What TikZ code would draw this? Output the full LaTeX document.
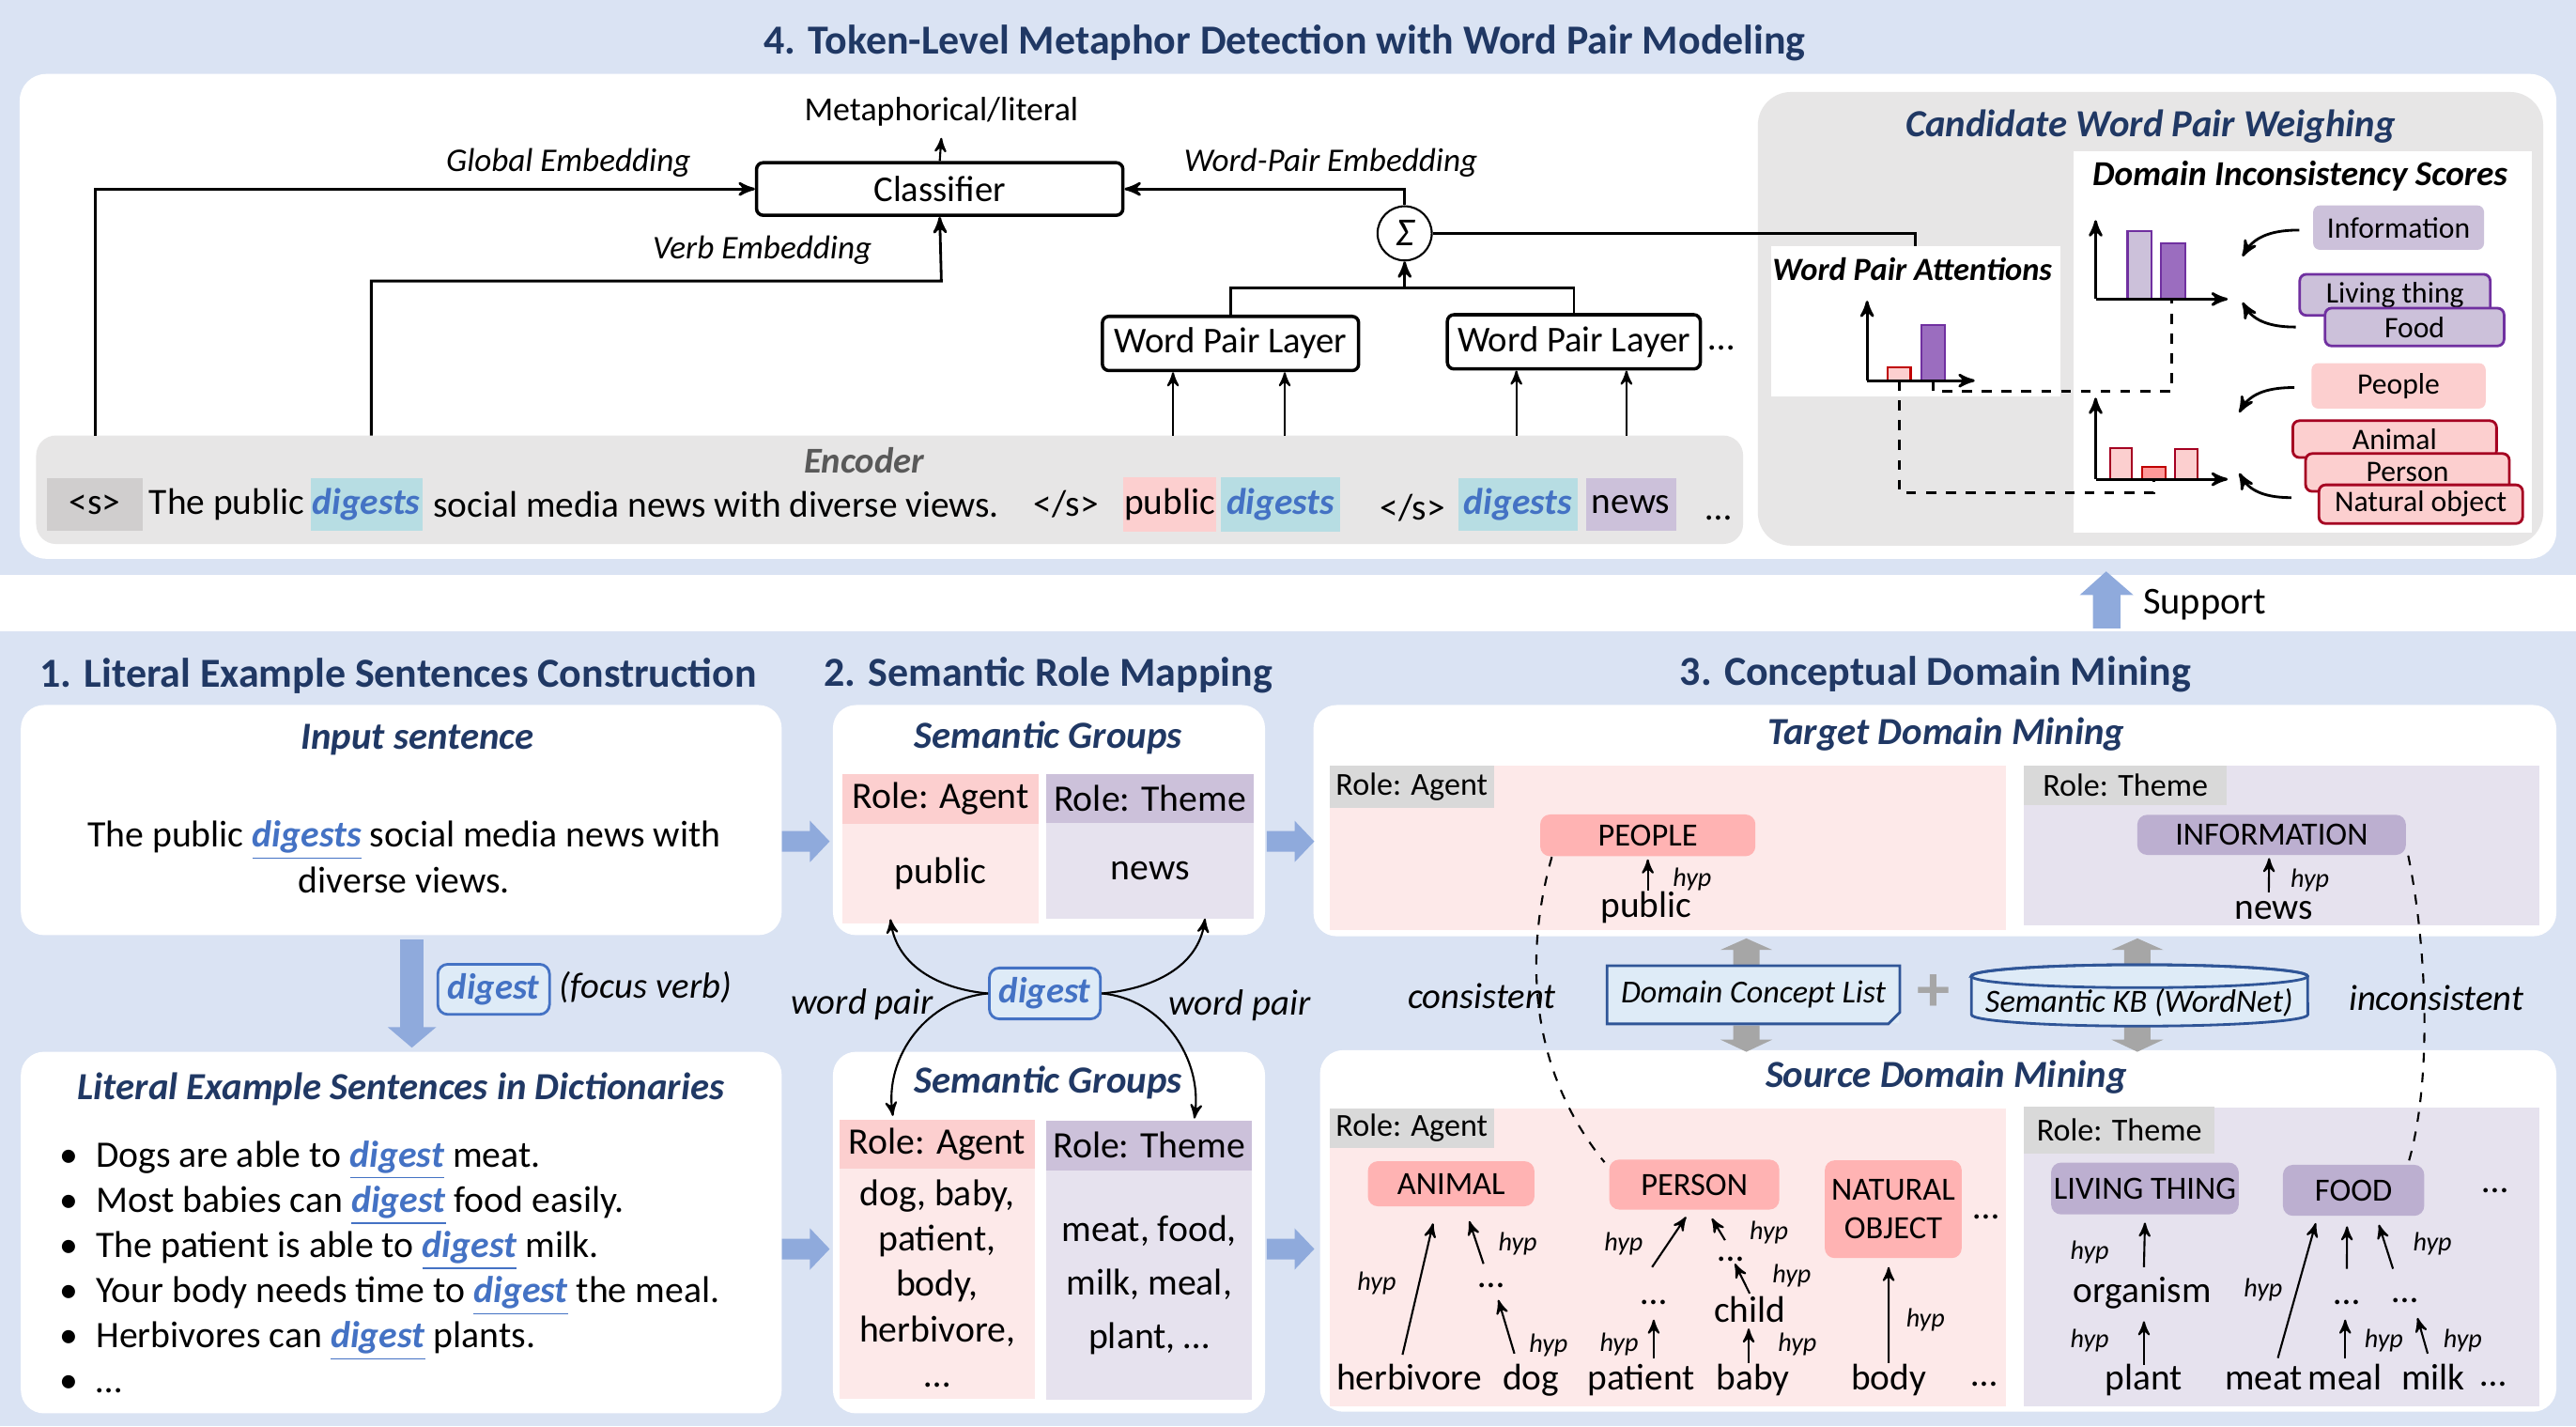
\documentclass[tikz,border=0pt]{standalone}
\usepackage{fontspec}
\setmainfont{Carlito}
\usepackage{tikz}
\usetikzlibrary{arrows,calc,positioning}
\definecolor{bgblue}{HTML}{DAE3F3}
\definecolor{navy}{HTML}{203864}
\definecolor{encgray}{HTML}{E7E6E6}
\definecolor{tokgray}{HTML}{D0CECE}
\definecolor{rolegray}{HTML}{D9D9D9}
\definecolor{pinkhead}{HTML}{FCCFCF}
\definecolor{pinkbody}{HTML}{FDE9E9}
\definecolor{pinkcon}{HTML}{FFB3B3}
\definecolor{purphead}{HTML}{CCC1DA}
\definecolor{purpbody}{HTML}{E6E2EE}
\definecolor{purpcon}{HTML}{BCAFD0}
\definecolor{tealhl}{HTML}{B7DDE3}
\definecolor{digblue}{HTML}{4472C4}
\definecolor{barrow}{HTML}{8FAADC}
\definecolor{garrow}{HTML}{A6A6A6}
\definecolor{dclfill}{HTML}{DEEBF7}
\definecolor{dclline}{HTML}{2F5597}
\definecolor{purpline}{HTML}{7030A0}
\definecolor{purpbar}{HTML}{9B6DBF}
\definecolor{redline}{HTML}{A50021}
\definecolor{barred}{HTML}{C00000}
\definecolor{barsalmon}{HTML}{FF9999}
\definecolor{encfont}{HTML}{595959}

\newcommand{\px}{0.017494cm}
\newcommand{\dig}[1]{\textcolor{digblue}{\underline{\textbf{\textit{#1}}}}}
\newcommand{\digb}[1]{\textcolor{digblue}{\textbf{\textit{#1}}}}
% block arrows (x, y)
\newcommand{\rblock}[2]{\fill[barrow] (#1,#2-6.3) -- (#1+17,#2-6.3) -- (#1+17,#2-12.6) -- (#1+29,#2) -- (#1+17,#2+12.6) -- (#1+17,#2+6.3) -- (#1,#2+6.3) -- cycle;}
\newcommand{\gup}[3]{\fill[garrow] (#1,#2) -- (#1+15.8,#2+7) -- (#1+8,#2+7) -- (#1+8,#3) -- (#1-8,#3) -- (#1-8,#2+7) -- (#1-15.8,#2+7) -- cycle;}
\newcommand{\gdown}[3]{\fill[garrow] (#1-8,#2) -- (#1+8,#2) -- (#1+8,#3-7.4) -- (#1+15.8,#3-7.4) -- (#1,#3) -- (#1-15.8,#3-7.4) -- (#1-8,#3-7.4) -- cycle;}

\begin{document}
\begin{tikzpicture}[x=\px,y=-\px,>=stealth',
  sz/.style 2 args={minimum width=#1*\px,minimum height=#2*\px,inner sep=0pt},
  ttl/.style={font=\bfseries\fontsize{12.5}{14}\selectfont,text=navy},
  sub/.style={font=\bfseries\itshape\fontsize{11.6}{13}\selectfont,text=navy},
  chtl/.style={font=\bfseries\itshape\fontsize{9.8}{11}\selectfont},
  lbl/.style={font=\itshape\fontsize{10}{12}\selectfont},
  txt/.style={font=\fontsize{11.3}{13.7}\selectfont},
  sm/.style={font=\fontsize{9.7}{11}\selectfont},
  hyp/.style={font=\itshape\fontsize{8}{9}\selectfont,inner sep=0pt},
  word/.style={font=\fontsize{11.2}{13}\selectfont,inner sep=0.5pt,text height=8pt,text depth=2.5pt},
  layer/.style={draw,line width=1pt,rounded corners=2pt,fill=white,font=\fontsize{11}{13}\selectfont},
  tok/.style={font=\fontsize{11.2}{13}\selectfont},
  digbox/.style={draw=digblue,thick,fill=dclfill,rounded corners=3pt,font=\fontsize{11}{13}\selectfont},
  con/.style={rounded corners=3pt,font=\fontsize{9.8}{11}\selectfont},
  side/.style={rounded corners=2pt,font=\fontsize{9}{10}\selectfont},
  hy/.style={->,line width=0.6pt}]

\useasboundingbox (0,0) rectangle (1568,868);
\fill[bgblue] (0,0) rectangle (1568,350);
\fill[bgblue] (0,384) rectangle (1568,868);
\fill[white,rounded corners=8pt] (12,45) rectangle (1556,340);

%% 4. token-level detection
\node[ttl] (t4) at (782,26) {4. Token-Level Metaphor Detection with Word Pair Modeling};
\node[layer,sz={223}{32}] (cls) at (572,115) {Classifier};
\node[font=\fontsize{10.2}{12}\selectfont] (meta) at (573,68) {Metaphorical/literal};
\draw[->,semithick] (cls.north) -- (meta.south);
\node[lbl] (gemb) at (346,99) {Global Embedding};
\node[lbl] (vemb) at (464,152) {Verb Embedding};
\node[lbl] (wemb) at (810,99) {Word-Pair Embedding};
\node[circle,draw,semithick,minimum size=33*\px,inner sep=0pt,fill=white,font=\itshape\fontsize{12}{13}\selectfont] (sig) at (855,142) {Σ};

\fill[encgray,rounded corners=6pt] (22,265) rectangle (1061,331);
\node[font=\bfseries\itshape\fontsize{11}{13}\selectfont,text=encfont] (enc) at (526,280) {Encoder};
\coordinate (g0) at (58,265);
\coordinate (v0) at (226,265);
\coordinate (vb) at (573,171);
\draw[->,thick] (g0) |- (cls.west);
\draw[->,thick] (v0) |- (vb) -- (cls.south);
\draw[->,thick] (sig.north) |- (cls.east);

\node[layer,sz={156}{33}] (wpl1) at (749,209) {Word Pair Layer};
\node[layer,sz={154}{33}] (wpl2) at (958,208) {Word Pair Layer};
\node[txt] (wdots) at (1048,212) {\dots};
\coordinate (jn) at (855,175);
\draw[thick] (wpl1.north) |- (jn) -| (wpl2.north);
\draw[->,thick] (jn) -- (sig.south);
\foreach \x/\w in {714/wpl1,782/wpl1,923/wpl2,990/wpl2}{
  \coordinate (e\x) at (\x,265);
  \draw[->,semithick] (e\x) -- (e\x |- \w.south);
}

\node[tok,fill=tokgray,sz={58}{32}] (s0) at (57.7,307) {<s>};
\node[tok] (w1) at (138,307) {The public};
\node[tok,fill=tealhl,sz={68}{32}] (w2) at (223,307) {\digb{digests}};
\node[tok] (w3) at (436,307) {social media news with diverse views.};
\node[tok] (w4) at (649,307) {</s>};
\node[tok,fill=pinkhead,sz={57}{33}] (w5) at (712,307) {public};
\node[tok,fill=tealhl,sz={73}{33}] (w6) at (779.5,307) {\digb{digests}};
\node[tok] (w7) at (860,309) {</s>};
\node[tok,fill=tealhl,sz={73}{32}] (w8) at (924,307) {\digb{digests}};
\node[tok,fill=purphead,sz={55}{32}] (w9) at (992.7,307) {news};
\node[tok] (w10) at (1046,315) {\dots};

%% candidate word pair weighing
\fill[encgray,rounded corners=10pt] (1070,56) rectangle (1548,332);
\node[sub] (cand) at (1309,77) {Candidate Word Pair Weighing};
\fill[white] (1262,92) rectangle (1541,324);
\node[chtl,font=\bfseries\itshape\fontsize{10.6}{12}\selectfont] (dis) at (1400,107) {Domain Inconsistency Scores};
\node[fill=white,sz={176}{91}] (wpa) at (1166,195.5) {};
\node[chtl] (wpat) at (1164,164) {Word Pair Attentions};
\draw[thick] (sig.east) -| (wpa.north);

\filldraw[fill=pinkhead,draw=barred,semithick] (1149,223.5) rectangle (1163,231.6);
\filldraw[fill=purpbar,draw=purpline,semithick] (1169.5,197.6) rectangle (1183.6,231.6);
\draw[->,thick] (1136.5,231.6) -- (1136.5,183);
\draw[->,thick] (1136.5,231.6) -- (1202,231.6);

\filldraw[fill=purphead,draw=purpline,semithick] (1295,140.4) rectangle (1309.5,182);
\filldraw[fill=purpbar,draw=purpline,semithick] (1315.5,148) rectangle (1330,182);
\draw[->,thick] (1275.6,182) -- (1275.6,134);
\draw[->,thick] (1275.6,182) -- (1356,182);

\filldraw[fill=pinkhead,draw=redline,semithick] (1284.6,272.5) rectangle (1297.6,291.6);
\filldraw[fill=barsalmon,draw=barred,semithick] (1304,284) rectangle (1318,291.6);
\filldraw[fill=pinkhead,draw=redline,semithick] (1324,273) rectangle (1337.6,291.6);
\draw[->,thick] (1275.6,291.6) -- (1275.6,242);
\draw[->,thick] (1275.6,291.6) -- (1356,291.6);

\draw[dashed,thick] (1176.5,231.6) |- (1322,238) -- (1322,182);
\draw[dashed,thick] (1156,231.6) |- (1311,299.6) -- (1311,291.6);

\node[side,fill=purphead,sz={104}{27}] (info) at (1460,138.5) {Information};
\node[side,fill=purphead,draw=purpline,thick,sz={116}{25}] (liv) at (1457.8,179.4) {Living thing};
\node[side,fill=purphead,draw=purpline,thick,sz={109}{23}] (food) at (1469.7,199) {Food};
\node[side,fill=pinkhead,sz={106}{27.6}] (peo) at (1460,234.8) {People};
\node[side,fill=pinkhead,draw=redline,thick,sz={124}{22.4}] (ani) at (1457.6,267.2) {Animal};
\node[side,fill=pinkhead,draw=redline,thick,sz={124}{23}] (pers) at (1465.4,287.5) {Person};
\node[side,fill=pinkhead,draw=redline,thick,sz={124}{23.5}] (nat) at (1473.5,306.8) {Natural object};

\coordinate (c1) at (1365,156);
\coordinate (c2) at (1365,184);
\coordinate (c3) at (1363,251);
\coordinate (c4) at (1363,288);
\draw[->,thick] ($(info.west)+(-8,1.5)$) to[out=180,in=60] (c1);
\draw[->,thick] ($(food.west)+(-17,0)$) to[out=180,in=-60] (c2);
\draw[->,thick] ($(peo.west)+(-10,1)$) to[out=180,in=60] (c3);
\draw[->,thick] ($(nat.west)+(-16,-4)$) to[out=180,in=-60] (c4);

%% support
\fill[barrow] (1282,347.7) -- (1298.5,362) -- (1290.7,362) -- (1290.7,382.4) -- (1274,382.4) -- (1274,362) -- (1266,362) -- cycle;
\node[font=\fontsize{11.5}{13}\selectfont] (sup) at (1342,367.7) {Support};

%% section titles
\node[ttl] (t1) at (242.5,411.5) {1. Literal Example Sentences Construction};
\node[ttl] (t2) at (638,411) {2. Semantic Role Mapping};
\node[ttl] (t3) at (1178,410.5) {3. Conceptual Domain Mining};

\fill[white,rounded corners=7pt] (12.7,429) rectangle (475.8,569);
\fill[white,rounded corners=7pt] (12.7,640) rectangle (475.8,860);
\fill[white,rounded corners=7pt] (507,429) rectangle (770,569);
\fill[white,rounded corners=7pt] (507,640) rectangle (770,860);
\fill[white,rounded corners=7pt] (799.5,429) rectangle (1556,569.7);
\fill[white,rounded corners=7pt] (803.5,639) rectangle (1556,859);

%% 1. literal example sentences
\node[sub] (ins) at (254,450) {Input sentence};
\node[txt,align=center] (sent) at (246,521.5) {The public \dig{digests} social media news with\\diverse views.};
\fill[barrow] (243.5,571.7) rectangle (258,625.5);
\fill[barrow] (236,625) -- (265.5,625) -- (250.7,637.5) -- cycle;
\node[digbox,sz={68}{30.5}] (fv) at (300.5,602) {\digb{digest}};
\node[font=\itshape\fontsize{11}{13}\selectfont] (fvt) at (393,601) {(focus verb)};
\node[sub] (lex) at (244,662.5) {Literal Example Sentences in Dictionaries};
\node[txt,align=left,anchor=west] (ex) at (29,771) {%
\textbullet\hspace{5.5pt}Dogs are able to \dig{digest} meat.\\
\textbullet\hspace{5.5pt}Most babies can \dig{digest} food easily.\\
\textbullet\hspace{5.5pt}The patient is able to \dig{digest} milk.\\
\textbullet\hspace{5.5pt}Your body needs time to \dig{digest} the meal.\\
\textbullet\hspace{5.5pt}Herbivores can \dig{digest} plants.\\
\textbullet\hspace{5.5pt}\dots};

\rblock{476}{512}
\rblock{476}{760}
\rblock{771}{512}
\rblock{771}{760}

%% 2. semantic role mapping
\node[sub] (sg1) at (638,449) {Semantic Groups};
\node[txt,fill=pinkhead,sz={119}{30.5}] (ag1) at (572.5,486) {Role: Agent};
\node[txt,fill=pinkbody,sz={119}{60.6}] (ag1b) at (572.5,531.6) {public};
\node[txt,fill=purphead,sz={126}{30}] (th1) at (700,486) {Role: Theme};
\node[txt,fill=purpbody,sz={126}{58}] (th1b) at (700,530) {news};

\node[sub] (sg2) at (638,658.5) {Semantic Groups};
\node[txt,fill=pinkhead,sz={119}{29.5}] (ag2) at (570.5,696.2) {Role: Agent};
\node[txt,fill=pinkbody,sz={119}{140},align=center] (ag2b) at (570.5,781) {dog, baby,\\patient,\\body,\\herbivore,\\\dots};
\node[txt,fill=purphead,sz={125}{30}] (th2) at (699.5,697) {Role: Theme};
\node[font=\fontsize{11.3}{16.3}\selectfont,fill=purpbody,sz={125}{140},align=center] (th2b) at (699.5,782) {meat, food,\\milk, meal,\\plant, \dots};

\node[digbox,sz={67.6}{31}] (dg) at (636,604.5) {\digb{digest}};
\node[font=\itshape\fontsize{11}{13}\selectfont] (wp1) at (524.7,611) {word pair};
\node[font=\itshape\fontsize{11}{13}\selectfont] (wp2) at (754.4,611.7) {word pair};
\draw[->,semithick] (dg.west) to[out=175,in=-82] ($(ag1b.south)+(-30.5,-3)$);
\draw[->,semithick] (dg.west) to[out=185,in=98] ($(ag2.north)+(-27,-2)$);
\draw[->,semithick] (dg.east) to[out=5,in=-98] ($(th1b.south)+(33.5,-0.5)$);
\draw[->,semithick] (dg.east) to[out=-5,in=82] ($(th2.north)+(27.5,-1)$);

%% 3. conceptual domain mining -- target
\node[sub] (tdm) at (1184.6,447) {Target Domain Mining};
\fill[pinkbody] (809.5,466) rectangle (1221,566);
\fill[purpbody] (1232,466) rectangle (1545.5,563);
\node[sm,fill=rolegray,sz={100}{25.6}] (rta) at (859.3,478.8) {Role: Agent};
\node[sm,fill=rolegray,sz={123.5}{24}] (rtt) at (1293.7,478) {Role: Theme};
\node[con,fill=pinkcon,sz={131}{25.4}] (peo2) at (1003,508.3) {PEOPLE};
\node[con,fill=purpcon,sz={163.5}{24.4}] (inf2) at (1382.7,508) {INFORMATION};
\node[word] (pub2) at (1002,552.6) {public};
\node[word] (news2) at (1384,554) {news};
\draw[hy] ($(pub2.north)+(1,1)$) -- ($(peo2.south)+(0,1.5)$);
\draw[hy] ($(news2.north)+(-3,1)$) -- ($(inf2.south)+(-1.5,1.5)$);
\node[hyp] (hp1) at (1030,535) {hyp};
\node[hyp] (hp2) at (1406,535.4) {hyp};

%% knowledge sources
\node[font=\itshape\fontsize{11}{13}\selectfont] (cons) at (902,606) {consistent};
\node[font=\itshape\fontsize{11}{13}\selectfont] (incons) at (1483,607) {inconsistent};
\gup{1063}{571}{587}
\gup{1301}{571}{587}
\gdown{1063}{624}{640}
\gdown{1301}{624}{640}
\node[font=\itshape\fontsize{9.7}{12}\selectfont,fill=dclfill,sz={177.4}{34.6}] (dcl) at (1067.3,605.3) {Domain Concept List};
\draw[dclline,thick] (dcl.north west) -- (dcl.north east) -- ($(dcl.south east)+(0,-7)$) -- ($(dcl.south east)+(-7,0)$) -- (dcl.south west) -- cycle;
\node[text=garrow,font=\bfseries\fontsize{20}{20}\selectfont] (plus) at (1177,604) {+};
\filldraw[fill=dclfill,draw=dclline,thick] (1200,594) -- (1200,617.4) arc[start angle=180,end angle=360,x radius=1.79cm,y radius=0.122cm] -- (1404.6,594) arc[start angle=0,end angle=180,x radius=1.79cm,y radius=0.122cm] -- cycle;
\draw[dclline,thick] (1302.3,594) ellipse[x radius=1.79cm,y radius=0.122cm];
\node[font=\itshape\fontsize{9.8}{12}\selectfont] (kb) at (1302,610) {Semantic KB (WordNet)};

%% source
\node[sub] (sdm) at (1184.6,655.5) {Source Domain Mining};
\fill[pinkbody] (809.5,674.5) rectangle (1221,855.5);
\fill[purpbody] (1232,673.7) rectangle (1545.5,855.5);
\node[sm,fill=rolegray,sz={100}{24}] (rsa) at (859.3,686.5) {Role: Agent};
\node[sm,fill=rolegray,sz={116}{28.3}] (rst) at (1290,687.6) {Role: Theme};
\node[con,fill=pinkcon,sz={101.4}{27.4}] (ani2) at (883.3,720.3) {ANIMAL};
\node[con,fill=pinkcon,sz={103.5}{30.4}] (per) at (1031.3,720.8) {PERSON};
\node[con,fill=pinkcon,sz={83.3}{59.5},align=center,font=\fontsize{9.8}{11.8}\selectfont] (nat2) at (1152.4,735.8) {NATURAL\\OBJECT};
\node[con,fill=purpcon,sz={114.2}{31.5}] (liv2) at (1305.6,723.2) {LIVING THING};
\node[con,fill=purpcon,sz={86}{31}] (food2) at (1432.6,724.3) {FOOD};
\node[word] (sd1) at (1209,736) {\dots};
\node[word] (sd2) at (1519,720) {\dots};

\draw[dashed,semithick] ($(peo2.south west)+(7.5,0)$) .. controls (928,580) and (930,650) .. ($(per.north west)+(-2.5,2)$);
\draw[dashed,semithick] ($(inf2.south east)+(1,0)$) .. controls (1478,580) and (1480,660) .. ($(food2.north east)+(-10,-1)$);

\node[word] (herb) at (857.7,840.3) {herbivore};
\node[word] (dog) at (931.8,840.3) {dog};
\node[word] (pat) at (999,840.3) {patient};
\node[word] (baby) at (1067,840.3) {baby};
\node[word] (body) at (1149.6,840.3) {body};
\node[word] (edots) at (1208,838) {\dots};
\node[word] (plant) at (1305,840.3) {plant};
\node[word] (meat) at (1378,840.3) {meat};
\node[word] (meal) at (1427.5,840.3) {meal};
\node[word] (milk) at (1481,840.3) {milk};
\node[word] (tdots) at (1518,838) {\dots};
\node[word] (d1) at (908,778) {\dots};
\node[word] (d2) at (1006.6,788) {\dots};
\node[word] (d3) at (1053.5,762) {\dots};
\node[word] (child) at (1065,799) {child};
\node[word] (org) at (1304,787) {organism};
\node[word] (d4) at (1428.5,788) {\dots};
\node[word] (d5) at (1464,787) {\dots};

\draw[hy] ($(herb.north)+(-4,-4)$) -- ($(ani2.south)+(-11,10)$);
\draw[hy] ($(d1.north)+(-5,3)$) -- ($(ani2.south)+(11,8.6)$);
\draw[hy] ($(dog.north)+(-10,-4.7)$) -- ($(d1.south)+(4,1)$);
\draw[hy] ($(d2.north)+(-1,-5)$) -- ($(per.south)+(-5,4)$);
\draw[hy] ($(pat.north)+(7.6,-1.7)$) -- ($(d2.south)+(0,3)$);
\draw[hy] ($(d3.north)+(-3.5,4.6)$) -- ($(per.south)+(10.7,5)$);
\draw[hy] (child.north) -- ($(d3.south)+(2.5,-5)$);
\draw[hy] ($(baby.north)+(-2.6,1)$) -- ($(child.south)+(-0.6,-2.6)$);
\draw[hy] ($(body.north)+(0,1)$) -- ($(nat2.south)+(-2.8,5)$);
\draw[hy] ($(org.north)+(1,-4)$) -- ($(liv2.south)+(0,4.6)$);
\draw[hy] ($(plant.north)+(0,2)$) -- ($(org.south)+(1,5)$);
\draw[hy] ($(meat.north)+(8.5,-2)$) -- ($(food2.south)+(-23,4)$);
\draw[hy] ($(d4.north)+(0,-4)$) -- ($(food2.south)+(-4,6)$);
\draw[hy] ($(d5.north)+(-7.4,-3)$) -- ($(food2.south)+(15.4,5)$);
\draw[hy] ($(meal.north)+(0,-1.7)$) -- ($(d4.south)+(-1,3)$);
\draw[hy] ($(milk.north)+(-3.3,-4.7)$) -- ($(d5.south)+(7.5,3)$);

\node[hyp] (h1) at (838,781) {hyp};
\node[hyp] (h2) at (923.8,757) {hyp};
\node[hyp] (h3) at (942.6,818.4) {hyp};
\node[hyp] (h4) at (988.3,757) {hyp};
\node[hyp] (h5) at (985.5,818) {hyp};
\node[hyp] (h6) at (1076.7,750) {hyp};
\node[hyp] (h7) at (1090.6,776.3) {hyp};
\node[hyp] (h8) at (1094,818) {hyp};
\node[hyp] (h9) at (1172,803) {hyp};
\node[hyp] (h10) at (1272,762) {hyp};
\node[hyp] (h11) at (1272,815.5) {hyp};
\node[hyp] (h12) at (1377.6,785) {hyp};
\node[hyp] (h14) at (1480.6,757) {hyp};
\node[hyp] (h15) at (1451,815.5) {hyp};
\node[hyp] (h16) at (1499,815.5) {hyp};

\end{tikzpicture}
\end{document}
